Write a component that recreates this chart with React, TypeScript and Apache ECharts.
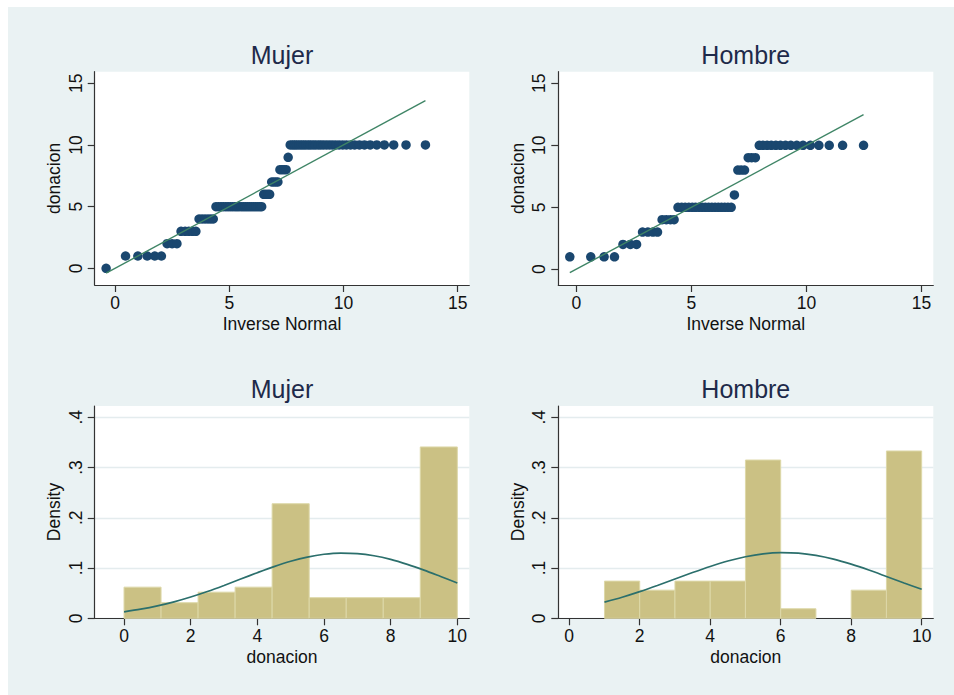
import React, { useEffect, useRef } from 'react';
import * as echarts from 'echarts';

// ---------- data ----------
const panelTitles = ['Mujer', 'Hombre'];

// Mujer: sorted donation values and their inverse-normal quantiles
const mujerValues = [
  0,
  1, 1, 1, 1, 1,
  2, 2, 2,
  3, 3, 3, 3, 3,
  4, 4, 4, 4, 4, 4,
  5, 5, 5, 5, 5, 5, 5, 5, 5, 5, 5, 5, 5, 5, 5, 5, 5, 5, 5, 5, 5, 5,
  6, 6, 6, 6,
  7, 7, 7, 7,
  8, 8, 8, 8,
  9,
  10, 10, 10, 10, 10, 10, 10, 10, 10, 10, 10, 10, 10, 10, 10, 10,
  10, 10, 10, 10, 10, 10, 10, 10, 10, 10, 10, 10, 10, 10, 10, 10,
];
const mujerQuantiles = [
  -0.39, 0.46, 1.0, 1.41, 1.74, 2.03, 2.28, 2.5, 2.71, 2.89,
  3.07, 3.23, 3.39, 3.54, 3.68, 3.81, 3.94, 4.07, 4.19, 4.3,
  4.42, 4.53, 4.64, 4.74, 4.85, 4.95, 5.05, 5.15, 5.25, 5.34,
  5.43, 5.53, 5.62, 5.71, 5.8, 5.89, 5.98, 6.07, 6.16, 6.25,
  6.34, 6.42, 6.51, 6.6, 6.69, 6.77, 6.86, 6.95, 7.04, 7.13,
  7.22, 7.31, 7.4, 7.49, 7.58, 7.67, 7.77, 7.86, 7.95, 8.05,
  8.15, 8.25, 8.35, 8.46, 8.56, 8.67, 8.78, 8.9, 9.01, 9.13,
  9.26, 9.39, 9.52, 9.66, 9.81, 9.97, 10.13, 10.31, 10.49, 10.7,
  10.92, 11.17, 11.46, 11.79, 12.2, 12.74, 13.59,
];

// Hombre
const hombreValues = [
  1, 1, 1, 1,
  2, 2, 2,
  3, 3, 3, 3,
  4, 4, 4, 4,
  5, 5, 5, 5, 5, 5, 5, 5, 5, 5, 5, 5, 5, 5, 5, 5, 5,
  6,
  8, 8, 8,
  9, 9, 9,
  10, 10, 10, 10, 10, 10, 10, 10, 10, 10, 10, 10, 10, 10, 10,
];
const hombreQuantiles = [
  -0.28, 0.63, 1.21, 1.66, 2.03, 2.35, 2.62, 2.88, 3.11, 3.33,
  3.53, 3.73, 3.91, 4.09, 4.25, 4.42, 4.58, 4.73, 4.89, 5.04,
  5.18, 5.33, 5.47, 5.61, 5.75, 5.89, 6.03, 6.17, 6.31, 6.45,
  6.59, 6.73, 6.87, 7.02, 7.16, 7.31, 7.47, 7.62, 7.78, 7.95,
  8.11, 8.29, 8.47, 8.67, 8.87, 9.09, 9.32, 9.58, 9.85, 10.17,
  10.54, 10.99, 11.57, 12.48,
];

// Histograms
const mujerBinEdges = [0, 1.111, 2.222, 3.333, 4.444, 5.556, 6.667, 7.778, 8.889, 10];
const mujerDensity = [0.062, 0.031, 0.052, 0.062, 0.228, 0.041, 0.041, 0.041, 0.341];
const hombreBinEdges = [1, 2, 3, 4, 5, 6, 7, 8, 9, 10];
const hombreDensity = [0.074, 0.056, 0.074, 0.074, 0.315, 0.019, 0, 0.056, 0.333];

// Normal density overlays
const mujerCurveX = [0, 0.5, 1, 1.5, 2, 2.5, 3, 3.5, 4, 4.5, 5, 5.5, 6, 6.5, 7, 7.5, 8, 8.5, 9, 9.5, 10];
const mujerCurveY = [
  0.0129, 0.0181, 0.0246, 0.0327, 0.0423, 0.0533, 0.0654, 0.0781, 0.0908, 0.1029, 0.1135,
  0.1219, 0.1275, 0.1299, 0.1289, 0.1245, 0.1172, 0.1073, 0.0958, 0.0832, 0.0704,
];
const hombreCurveX = [1, 1.5, 2, 2.5, 3, 3.5, 4, 4.5, 5, 5.5, 6, 6.5, 7, 7.5, 8, 8.5, 9, 9.5, 10];
const hombreCurveY = [
  0.0323, 0.0419, 0.053, 0.0652, 0.0781, 0.091, 0.1032, 0.114, 0.1225, 0.1283,
  0.1307, 0.1297, 0.1252, 0.1177, 0.1077, 0.096, 0.0832, 0.0703, 0.0577,
];

// Tick labels
const qqTicks = [0, 5, 10, 15];
const histXTicks = [0, 2, 4, 6, 8, 10];
const histYTicks = [0, 0.1, 0.2, 0.3, 0.4];

// ---------- styling ----------
const FONT = '"Liberation Sans", Arial, Helvetica, sans-serif';
const OX = 8;
const OY = 7;
const BG = '#eaf2f3';
const AXIS = '#333333';
const MARKER = '#1a476f';
const QQLINE = '#3f8566';
const CURVE = '#2b6f6c';
const BAR = '#cbc184';
const BAR_EDGE = '#ddd8a8';
const LABEL_SIZE = 17.5;

const grids = [
  { left: 94.7 - OX, top: 71.7 - OY, width: 374.6, height: 213.3 },
  { left: 558.3 - OX, top: 71.7 - OY, width: 375, height: 213.3 },
  { left: 94.7 - OX, top: 406 - OY, width: 374.6, height: 212.3 },
  { left: 558.3 - OX, top: 406 - OY, width: 375, height: 212.3 },
];

function xAxisDef(gridIndex: number, min: number, max: number, ticks: number[]) {
  return {
    type: 'value',
    gridIndex,
    min,
    max,
    axisLine: { show: true, onZero: false, lineStyle: { color: AXIS, width: 1.2 } },
    axisTick: { show: true, length: 7, customValues: ticks, lineStyle: { color: AXIS, width: 1.2 } },
    axisLabel: {
      customValues: ticks,
      color: '#111',
      fontSize: LABEL_SIZE,
      fontFamily: FONT,
      margin: 9,
    },
    splitLine: { show: false },
  };
}

function yAxisQQ(gridIndex: number, min: number, max: number) {
  return {
    type: 'value',
    gridIndex,
    min,
    max,
    axisLine: { show: true, onZero: false, lineStyle: { color: AXIS, width: 1.2 } },
    axisTick: { show: true, length: 7, customValues: qqTicks, lineStyle: { color: AXIS, width: 1.2 } },
    axisLabel: {
      customValues: qqTicks,
      rotate: 90,
      color: '#111',
      fontSize: LABEL_SIZE,
      fontFamily: FONT,
      margin: 10,
    },
    splitLine: { show: false },
  };
}

function yAxisHist(gridIndex: number) {
  return {
    type: 'value',
    gridIndex,
    min: 0,
    max: 0.4225,
    interval: 0.1,
    axisLine: { show: true, onZero: false, lineStyle: { color: AXIS, width: 1.2 } },
    axisTick: { show: true, length: 7, customValues: histYTicks, lineStyle: { color: AXIS, width: 1.2 } },
    axisLabel: {
      customValues: histYTicks,
      rotate: 90,
      color: '#111',
      fontSize: LABEL_SIZE,
      fontFamily: FONT,
      margin: 10,
      formatter: (v: number) => (Math.abs(v) < 1e-9 ? '0' : String(+v.toFixed(1)).replace(/^0\./, '.')),
    },
    splitLine: { show: true, lineStyle: { color: '#e4ecee', width: 1.3 } },
  };
}

function histSeries(idx: number, edges: number[], dens: number[]) {
  return {
    type: 'custom',
    xAxisIndex: idx,
    yAxisIndex: idx,
    z: 2,
    data: dens.map((d, i) => [edges[i], edges[i + 1], d]),
    encode: { x: [0, 1], y: 2 },
    renderItem: (params: any, api: any) => {
      const x0 = api.value(0);
      const x1 = api.value(1);
      const h = api.value(2);
      if (!h) return null;
      const p0 = api.coord([x0, h]);
      const p1 = api.coord([x1, 0]);
      return {
        type: 'rect',
        shape: { x: p0[0], y: p0[1], width: p1[0] - p0[0], height: p1[1] - p0[1] },
        style: { fill: BAR, stroke: BAR_EDGE, lineWidth: 1 },
      };
    },
  };
}

function curveSeries(idx: number, xs: number[], ys: number[]) {
  return {
    type: 'line',
    xAxisIndex: idx,
    yAxisIndex: idx,
    z: 4,
    smooth: 0.3,
    symbol: 'none',
    lineStyle: { color: CURVE, width: 1.7 },
    data: xs.map((x, i) => [x, ys[i]]),
  };
}

function qqScatter(idx: number, qs: number[], vals: number[]) {
  return {
    type: 'scatter',
    xAxisIndex: idx,
    yAxisIndex: idx,
    z: 2,
    symbol: 'circle',
    symbolSize: 9.5,
    itemStyle: { color: MARKER, opacity: 1 },
    data: qs.map((q, i) => [q, vals[i]]),
  };
}

function qqLine(idx: number, qs: number[]) {
  const a = qs[0];
  const b = qs[qs.length - 1];
  return {
    type: 'line',
    xAxisIndex: idx,
    yAxisIndex: idx,
    z: 4,
    symbol: 'none',
    lineStyle: { color: QQLINE, width: 1.4 },
    data: [[a, a], [b, b]],
  };
}

function txt(text: string, x: number, y: number, size: number, color: string, rot = 0) {
  return {
    type: 'text',
    x: x - OX,
    y: y - OY,
    rotation: rot,
    style: {
      text,
      fill: color,
      font: `${size}px ${FONT}`,
      align: 'center',
      verticalAlign: 'middle',
    },
  };
}

export default function App() {
  const ref = useRef<HTMLDivElement>(null);

  useEffect(() => {
    if (!ref.current) return;
    const chart = echarts.init(ref.current, undefined, { renderer: 'svg' });
    const option: any = {
      animation: false,
      backgroundColor: BG,
      grid: grids.map((g) => ({ ...g, show: true, backgroundColor: '#ffffff', borderWidth: 0, containLabel: false })),
      xAxis: [
        xAxisDef(0, -0.89, 15.51, qqTicks),
        xAxisDef(1, -0.78, 15.51, qqTicks),
        xAxisDef(2, -0.88, 10.36, histXTicks),
        xAxisDef(3, -0.31, 10.33, histXTicks),
      ],
      yAxis: [yAxisQQ(0, -1.35, 15.94), yAxisQQ(1, -1.27, 15.94), yAxisHist(2), yAxisHist(3)],
      series: [
        qqScatter(0, mujerQuantiles, mujerValues),
        qqLine(0, mujerQuantiles),
        qqScatter(1, hombreQuantiles, hombreValues),
        qqLine(1, hombreQuantiles),
        histSeries(2, mujerBinEdges, mujerDensity),
        curveSeries(2, mujerCurveX, mujerCurveY),
        histSeries(3, hombreBinEdges, hombreDensity),
        curveSeries(3, hombreCurveX, hombreCurveY),
      ],
      graphic: [
        txt(panelTitles[0], 282, 54.5, 25, '#1e2a4a'),
        txt(panelTitles[1], 745.8, 54.5, 25, '#1e2a4a'),
        txt(panelTitles[0], 282, 389.4, 25, '#1e2a4a'),
        txt(panelTitles[1], 745.8, 389.4, 25, '#1e2a4a'),
        txt('Inverse Normal', 282, 323.9, LABEL_SIZE, '#111'),
        txt('Inverse Normal', 745.8, 323.9, LABEL_SIZE, '#111'),
        txt('donacion', 282, 657.2, LABEL_SIZE, '#111'),
        txt('donacion', 745.8, 657.2, LABEL_SIZE, '#111'),
        txt('donacion', 53.9, 178.4, LABEL_SIZE, '#111', Math.PI / 2),
        txt('donacion', 517.5, 178.4, LABEL_SIZE, '#111', Math.PI / 2),
        txt('Density', 53.9, 512, LABEL_SIZE, '#111', Math.PI / 2),
        txt('Density', 517.5, 512, LABEL_SIZE, '#111', Math.PI / 2),
      ],
    };
    chart.setOption(option);
    return () => chart.dispose();
  }, []);

  return (
    <div style={{ position: 'fixed', left: 0, top: 0, width: 954, height: 695, background: '#ffffff' }}>
      <div ref={ref} style={{ position: 'absolute', left: OX, top: OY, width: 954 - OX, height: 695 - OY }} />
    </div>
  );
}
